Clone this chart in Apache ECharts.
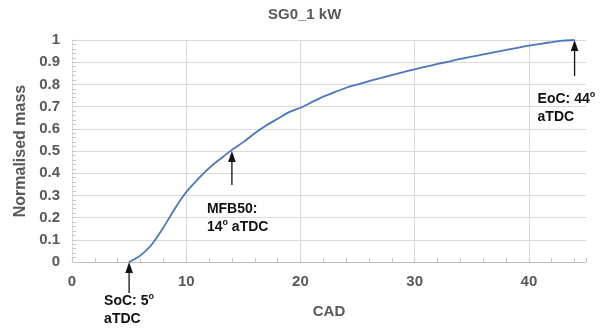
<!DOCTYPE html>
<html>
<head>
<meta charset="utf-8">
<script src="https://cdn.jsdelivr.net/npm/echarts@6/dist/echarts.min.js"></script>
<style>
  html, body { margin: 0; padding: 0; background: #fff; }
  #main { width: 600px; height: 329px; }
</style>
</head>
<body>
<div id="main"></div>
<script>
// Cumulative normalised burned mass against crank angle (CAD)
const cad = [5, 6, 7, 8, 9, 10, 11, 12, 13, 14, 15, 16, 17, 18, 19, 20, 21, 22, 23, 24,
             25, 26, 27, 28, 29, 30, 31, 32, 33, 34, 35, 36, 37, 38, 39, 40, 41, 42, 43, 44];
const mass = [0, 0.03, 0.08, 0.155, 0.24, 0.315, 0.372, 0.423, 0.465, 0.505, 0.54, 0.58, 0.615, 0.645, 0.675, 0.695, 0.72, 0.745, 0.765, 0.785,
              0.80, 0.815, 0.828, 0.842, 0.855, 0.868, 0.88, 0.892, 0.903, 0.915, 0.925, 0.935, 0.945, 0.955, 0.965, 0.975, 0.983, 0.99, 0.997, 1.0];

// Axis ticks
const xTicks = [0, 10, 20, 30, 40];
const yTicks = [0, 0.1, 0.2, 0.3, 0.4, 0.5, 0.6, 0.7, 0.8, 0.9, 1];

// Combustion milestones: start, 50 % mass fraction burned, end
const calloutCAD = [5, 14, 44];
const calloutMass = [0, 0.5, 1];
const calloutText = [
  'SoC: 5{s|o}\naTDC',
  'MFB50:\n14{s|o} aTDC',
  'EoC: 44{s|o}\naTDC'
];

// Arrow length and text offset (pixels) for each callout
const calloutLayout = [
  { len: 31, dx: -25, dy: 30 },
  { len: 34, dx: -25, dy: 49 },
  { len: 36, dx: -37, dy: 50 }
];

const gray = '#595959';
const font = 'Liberation Sans, Arial, sans-serif';

const chart = echarts.init(document.getElementById('main'), null, { renderer: 'canvas' });

const option = {
  animation: false,
  backgroundColor: '#fff',
  title: {
    text: 'SG0_1 kW',
    left: 268,
    top: 7,
    padding: 0,
    textStyle: { color: gray, fontSize: 15, fontWeight: 'bold', fontFamily: font }
  },
  grid: { left: 72, right: 14, top: 40, bottom: 67 },
  xAxis: {
    type: 'value',
    min: xTicks[0],
    max: 45,
    interval: xTicks[1] - xTicks[0],
    name: 'CAD',
    nameLocation: 'middle',
    nameGap: 42,
    nameTextStyle: { color: gray, fontSize: 15, fontWeight: 'bold', fontFamily: font },
    axisLine: { show: true, lineStyle: { color: '#bfbfbf', width: 1 } },
    axisTick: { show: true, inside: true, length: 4, lineStyle: { color: '#c8c8c8' } },
    minorTick: { show: true, splitNumber: 5, length: 4, lineStyle: { color: '#c8c8c8' } },
    axisLabel: {
      color: gray, fontSize: 15, fontWeight: 'bold', fontFamily: font, margin: 12,
      showMaxLabel: false,
      formatter: v => (xTicks.indexOf(v) >= 0 ? String(v) : '')
    },
    splitLine: {
      show: true,
      lineStyle: { color: ['#d9d9d9', '#d9d9d9', '#d9d9d9', '#d9d9d9', '#d9d9d9', 'rgba(0,0,0,0)'], width: 1 }
    }
  },
  yAxis: {
    type: 'value',
    min: yTicks[0],
    max: yTicks[yTicks.length - 1],
    interval: 0.1,
    name: 'Normalised mass',
    nameLocation: 'middle',
    nameGap: 42,
    nameTextStyle: { color: gray, fontSize: 16, fontWeight: 'bold', fontFamily: font },
    axisLine: { show: true, lineStyle: { color: '#d9d9d9', width: 1 } },
    axisTick: { show: true, inside: true, length: 4, lineStyle: { color: '#c8c8c8' } },
    minorTick: { show: true, splitNumber: 5, length: 4, lineStyle: { color: '#c8c8c8' } },
    axisLabel: {
      color: gray, fontSize: 15, fontWeight: 'bold', fontFamily: font, margin: 12,
      formatter: v => String(Math.round(v * 10) / 10)
    },
    splitLine: { show: true, lineStyle: { color: '#d9d9d9', width: 1 } }
  },
  series: [{
    type: 'line',
    data: cad.map((c, i) => [c, mass[i]]),
    showSymbol: false,
    smooth: 0.3,
    lineStyle: { color: '#4a76c0', width: 1.8 },
    itemStyle: { color: '#4a76c0' }
  }]
};

chart.setOption(option);

// Arrows and callout text placed from the data coordinates of each milestone
const graphics = [];
calloutCAD.forEach((c, i) => {
  const [px, py] = chart.convertToPixel({ gridIndex: 0 }, [c, calloutMass[i]]);
  const L = calloutLayout[i];
  graphics.push({
    type: 'line',
    shape: { x1: px, y1: py + 8, x2: px, y2: py + L.len },
    style: { stroke: '#111', lineWidth: 1.3 },
    z: 10
  });
  graphics.push({
    type: 'polygon',
    shape: { points: [[px, py], [px - 3.8, py + 11], [px + 3.8, py + 11]] },
    style: { fill: '#111' },
    z: 10
  });
  graphics.push({
    type: 'text',
    x: px + L.dx,
    y: py + L.dy,
    z: 10,
    style: {
      text: calloutText[i],
      fill: '#111',
      fontSize: 14,
      fontWeight: 'bold',
      fontFamily: font,
      lineHeight: 18,
      align: 'left',
      verticalAlign: 'top',
      rich: {
        s: { fontSize: 9, fontWeight: 'bold', fontFamily: font, fill: '#111', lineHeight: 10, verticalAlign: 'top' }
      }
    }
  });
});
chart.setOption({ graphic: graphics });
</script>
</body>
</html>
